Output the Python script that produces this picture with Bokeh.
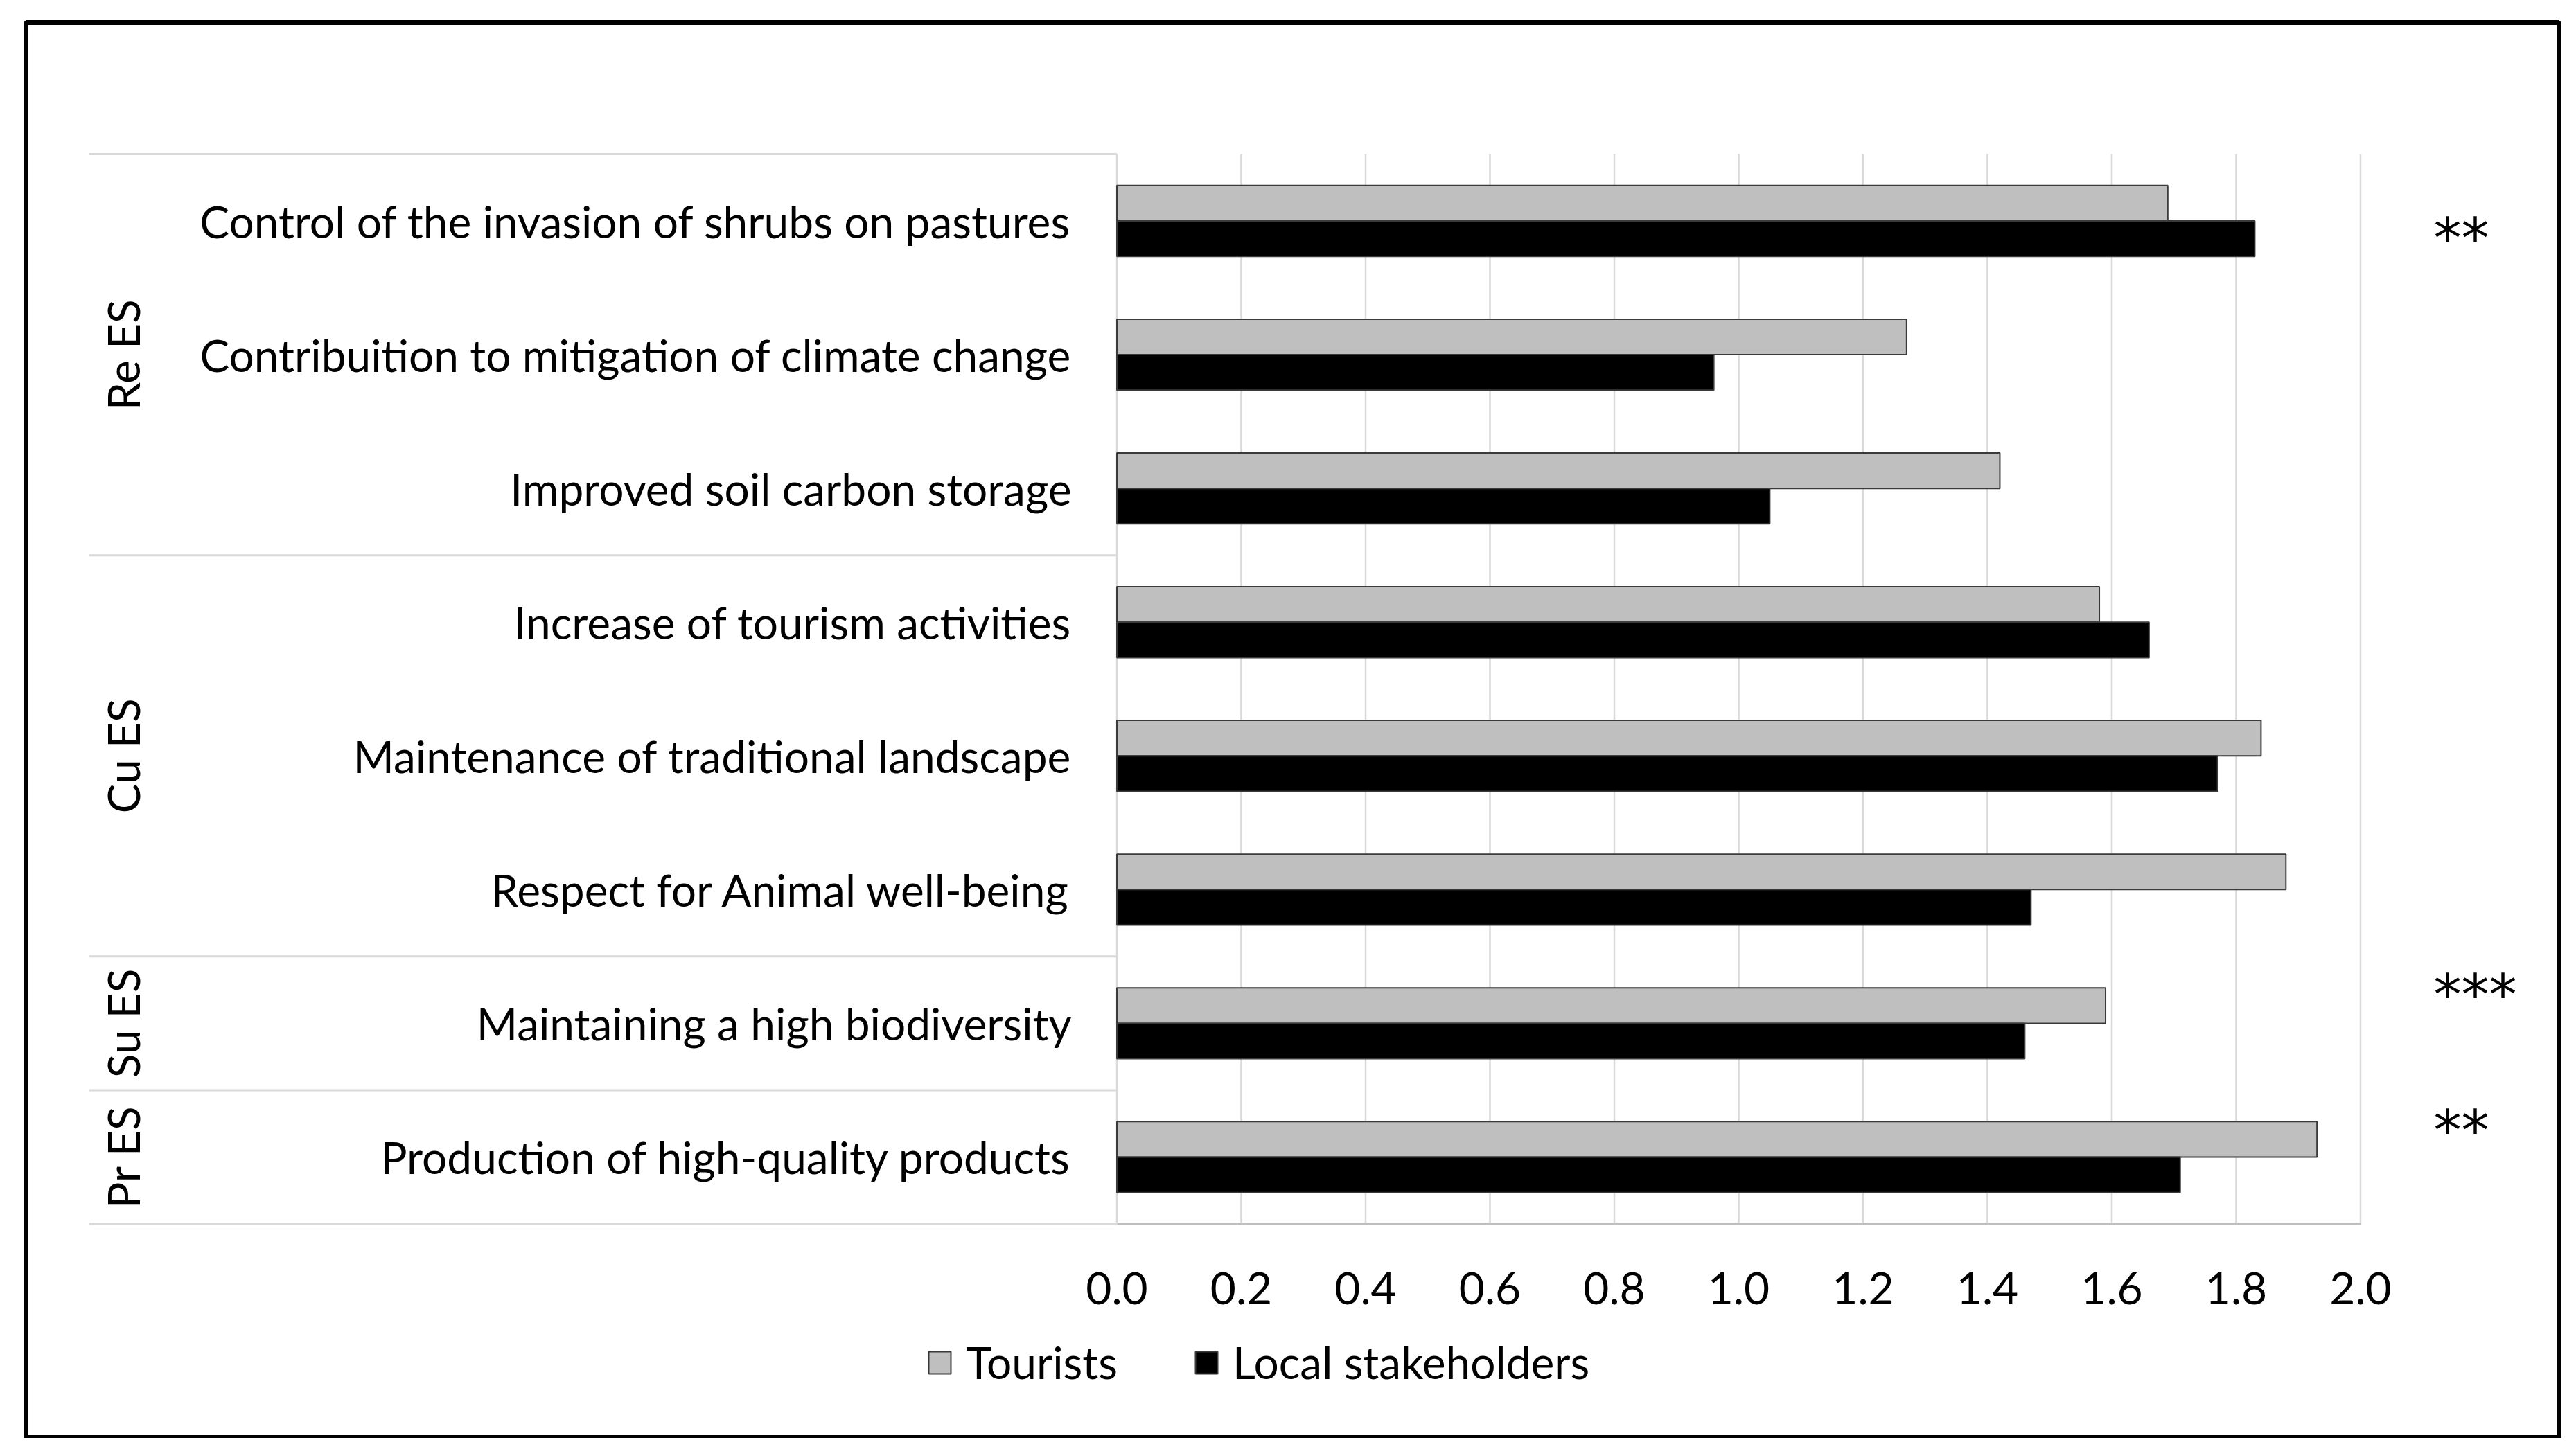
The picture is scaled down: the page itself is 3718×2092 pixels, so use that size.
import math
from bokeh.plotting import figure
from bokeh.models import (Range1d, FixedTicker, NumeralTickFormatter, Legend,
                          LegendItem, ColumnDataSource)
from bokeh.embed import file_html
from bokeh.resources import INLINE
from bokeh.core.properties import value

# ---------------- data ----------------
categories = [
    "Control of the invasion of shrubs on pastures",
    "Contribuition to mitigation of climate change",
    "Improved soil carbon storage",
    "Increase of tourism activities",
    "Maintenance of traditional landscape",
    "Respect for Animal well-being",
    "Maintaining a high biodiversity",
    "Production of high-quality products",
]
groups = ["Re ES", "Cu ES", "Su ES", "Pr ES"]
group_sizes = [3, 3, 1, 1]
tourists = [1.69, 1.27, 1.42, 1.58, 1.84, 1.88, 1.59, 1.93]
local_stakeholders = [1.83, 0.96, 1.05, 1.66, 1.77, 1.47, 1.46, 1.71]
significance = ["**", "", "", "", "", "", "***", "**"]
x_ticks = [0.0, 0.2, 0.4, 0.6, 0.8, 1.0, 1.2, 1.4, 1.6, 1.8, 2.0]
series_names = ["Tourists", "Local stakeholders"]

# ---------------- layout helpers ----------------
FONT = "Lato"
FS = "64px"
n = len(categories)
cat_y = [n - 0.5 - i for i in range(n)]          # top category first
bar_h = 0.265
off = 0.1325

p = figure(width=3702, height=2076,
           x_range=Range1d(-1.75432, 2.31922),
           y_range=Range1d(-1.59795, 8.98414),
           output_backend="svg", toolbar_location=None, title=None,
           min_border_left=37, min_border_right=9,
           min_border_top=32, min_border_bottom=1)
p.background_fill_color = "white"
p.border_fill_color = "white"
p.outline_line_color = "black"
p.outline_line_width = 7
p.xgrid.visible = False
p.ygrid.visible = False
p.yaxis.visible = False

# vertical gridlines of the value axis
p.segment(x0=x_ticks, y0=[0] * len(x_ticks), x1=x_ticks, y1=[n] * len(x_ticks),
          line_color="#D9D9D9", line_width=2.5)

# separator lines of the category table
bounds = [n]
acc = n
for s in group_sizes:
    acc -= s
    bounds.append(acc)
p.segment(x0=[-1.653] * len(bounds), y0=bounds, x1=[0] * len(bounds), y1=bounds,
          line_color="#D9D9D9", line_width=3)

# bars
src = ColumnDataSource(dict(
    yt=[y + off for y in cat_y], yl=[y - off for y in cat_y],
    t=tourists, l=local_stakeholders))
r_t = p.hbar(y="yt", right="t", left=0, height=bar_h, source=src,
             fill_color="#BFBFBF", line_color="#3A3A3A", line_width=2)
r_l = p.hbar(y="yl", right="l", left=0, height=bar_h, source=src,
             fill_color="#000000", line_color="#3A3A3A", line_width=2)

# category labels
p.text(x=[-0.073] * n, y=cat_y, text=categories, text_align="right",
       text_baseline="middle", text_font=value(FONT), text_font_size=FS,
       text_color="black")

# group labels (rotated)
gy = []
acc = n
for s in group_sizes:
    gy.append(acc - s / 2)
    acc -= s
p.text(x=[-1.598] * len(groups), y=gy, text=groups, angle=math.pi / 2,
       text_align="center", text_baseline="middle", text_font=value(FONT),
       text_font_size=FS, text_color="black")

# significance marks
sig_shift = {0: -0.13, 6: 0.21, 7: 0.195}
sx, sy, st = [], [], []
for i, s in enumerate(significance):
    if s:
        sx.append(2.1175)
        sy.append(cat_y[i] + sig_shift.get(i, 0))
        st.append(s)
p.text(x=sx, y=sy, text=st, text_align="left", text_baseline="middle",
       text_font=value("DejaVu Sans"), text_font_size="80px", text_color="black")

# value axis
ax = p.xaxis[0]
ax.fixed_location = 0
ax.bounds = (0, 2)
ax.ticker = FixedTicker(ticks=x_ticks)
ax.formatter = NumeralTickFormatter(format="0.0")
ax.axis_line_color = "#BFBFBF"
ax.axis_line_width = 3
ax.major_tick_line_color = None
ax.minor_tick_line_color = None
ax.major_tick_out = 0
ax.major_tick_in = 0
ax.major_label_standoff = 70
ax.major_label_text_font = FONT
ax.major_label_text_font_size = FS
ax.major_label_text_color = "black"

legend = Legend(items=[LegendItem(label=series_names[0], renderers=[r_t]),
                       LegendItem(label=series_names[1], renderers=[r_l])],
                orientation="horizontal", location=(1299, 70),
                padding=0, margin=0, spacing=108,
                glyph_width=40, glyph_height=40, label_standoff=18,
                label_text_font=FONT, label_text_font_size=FS,
                label_text_color="black",
                border_line_color=None, background_fill_alpha=0)
p.add_layout(legend)

open("out.html", "w").write(file_html(p, INLINE))
